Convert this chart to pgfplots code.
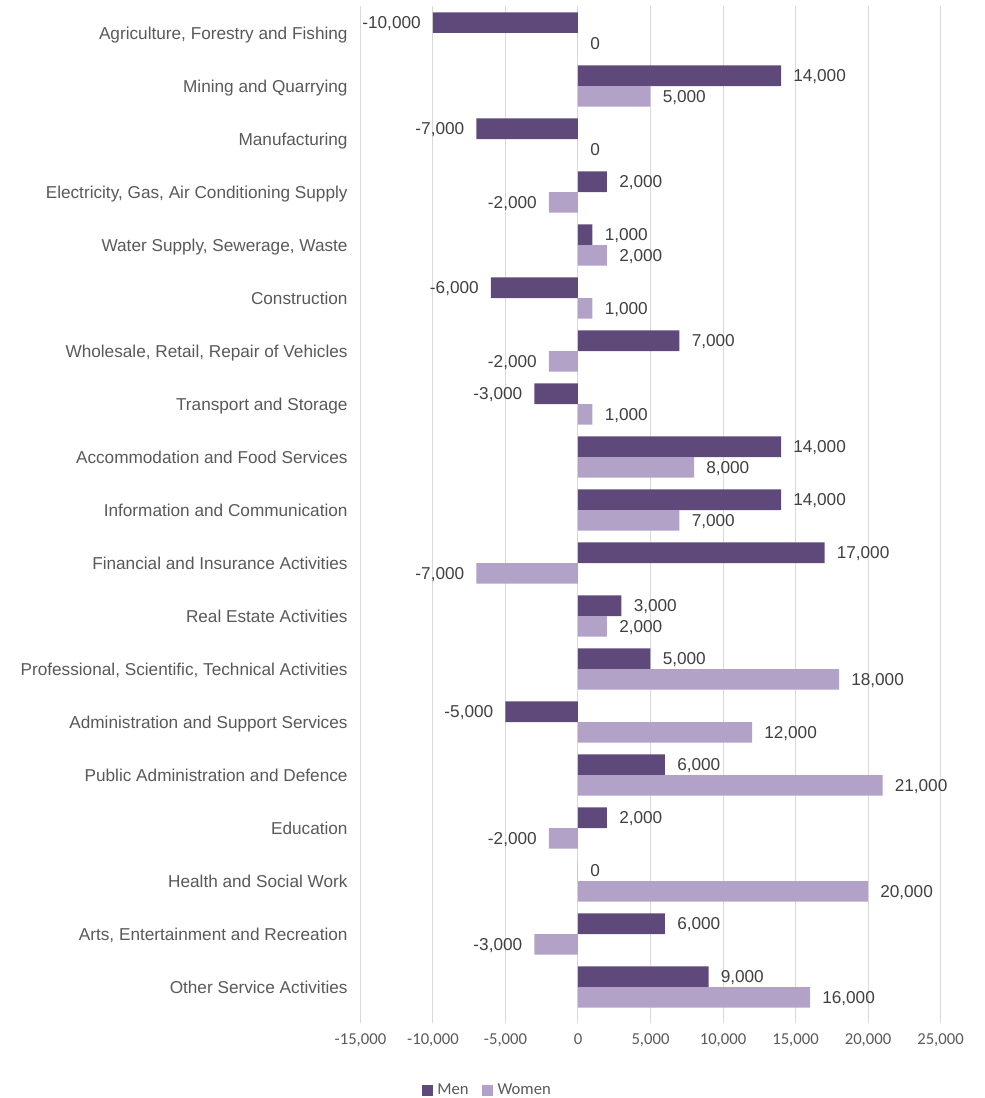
\documentclass[border=0pt]{standalone}
\usepackage{pgfplots}
\pgfplotsset{compat=1.18}
\usepackage{fontspec}
\setmainfont{Liberation Sans}
\newfontfamily\arial{Liberation Sans}
\newfontfamily\calibri{Carlito}
\definecolor{men}{HTML}{5F497A}
\definecolor{women}{HTML}{B3A2C7}
\definecolor{gridc}{HTML}{D9D9D9}
\definecolor{txt}{HTML}{595959}
\definecolor{lab}{HTML}{404040}
\begin{document}
\begin{tikzpicture}
\begin{axis}[name=ax, scale only axis, width=435pt, height=755.25pt,
  xbar, bar width=15.4pt,
  xmin=-15000, xmax=25000, xtick={-15000,-10000,...,25000},
  scaled x ticks=false,
  ymin=-0.5, ymax=18.5, y dir=reverse, ytick={0,...,18},
  yticklabels={Agriculture{,} Forestry and Fishing, Mining and Quarrying, Manufacturing,
    {Electricity, Gas, Air Conditioning Supply}, {Water Supply, Sewerage, Waste}, Construction,
    {Wholesale, Retail, Repair of Vehicles}, Transport and Storage, Accommodation and Food Services,
    Information and Communication, Financial and Insurance Activities, Real Estate Activities,
    {Professional, Scientific, Technical Activities}, Administration and Support Services,
    Public Administration and Defence, Education, Health and Social Work,
    {Arts, Entertainment and Recreation}, Other Service Activities},
  axis line style={draw=none},
  xmajorgrids, major grid style={draw=gridc, line width=0.75pt},
  tick pos=left, xtick align=outside, major tick length=7pt,
  xtick style={draw=gridc, line width=0.75pt},
  ytick style={draw=none},
  xticklabel={\pgfmathprintnumber[fixed, precision=0, 1000 sep={,}, assume math mode=true]{\tick}},
  xticklabel style={font=\calibri\fontsize{12.5}{15}\selectfont, text=txt, anchor=base, inner sep=0pt, yshift=-16.6pt},
  yticklabel style={font=\arial\fontsize{12.9}{15}\selectfont, text=txt, anchor=base east, inner sep=0pt, xshift=-2.5pt, yshift=-4.6pt},
  nodes near coords={\pgfmathprintnumber[fixed, precision=0, 1000 sep={,}, assume math mode=true]{\pgfplotspointmeta}},
  nodes near coords style={font=\arial\fontsize{12.9}{15}\selectfont, text=lab, inner xsep=9pt, inner ysep=0pt, text height=9.2pt, text depth=0pt},
  legend style={at={(axis description cs:0.217,-0.0765)}, anchor=center, draw=none, fill=none,
    font=\calibri\fontsize{12.5}{15}\selectfont, text=txt,
    /tikz/every odd column/.append style={column sep=3.4pt},
    /tikz/every even column/.append style={column sep=10pt},
    nodes={inner sep=0pt}},
  legend columns=2,
  legend image code/.code={\fill[#1] (0pt,-4.125pt) rectangle (8.25pt,4.125pt);},
]
\addplot[fill=men, draw=none, bar shift=7.7pt] coordinates {(-10000,0) (14000,1) (-7000,2) (2000,3) (1000,4) (-6000,5) (7000,6) (-3000,7) (14000,8) (14000,9) (17000,10) (3000,11) (5000,12) (-5000,13) (6000,14) (2000,15) (0,16) (6000,17) (9000,18)};
\addplot[fill=women, draw=none, bar shift=-7.7pt] coordinates {(0,0) (5000,1) (0,2) (-2000,3) (2000,4) (1000,5) (-2000,6) (1000,7) (8000,8) (7000,9) (-7000,10) (2000,11) (18000,12) (12000,13) (21000,14) (-2000,15) (20000,16) (-3000,17) (16000,18)};
\legend{Men, Women}
\end{axis}
\pgfresetboundingbox
\path[use as bounding box] ([shift={(-270.375pt,-63.375pt)}]ax.south west) rectangle ([shift={(32.625pt,4.875pt)}]ax.north east);
\end{tikzpicture}
\end{document}
